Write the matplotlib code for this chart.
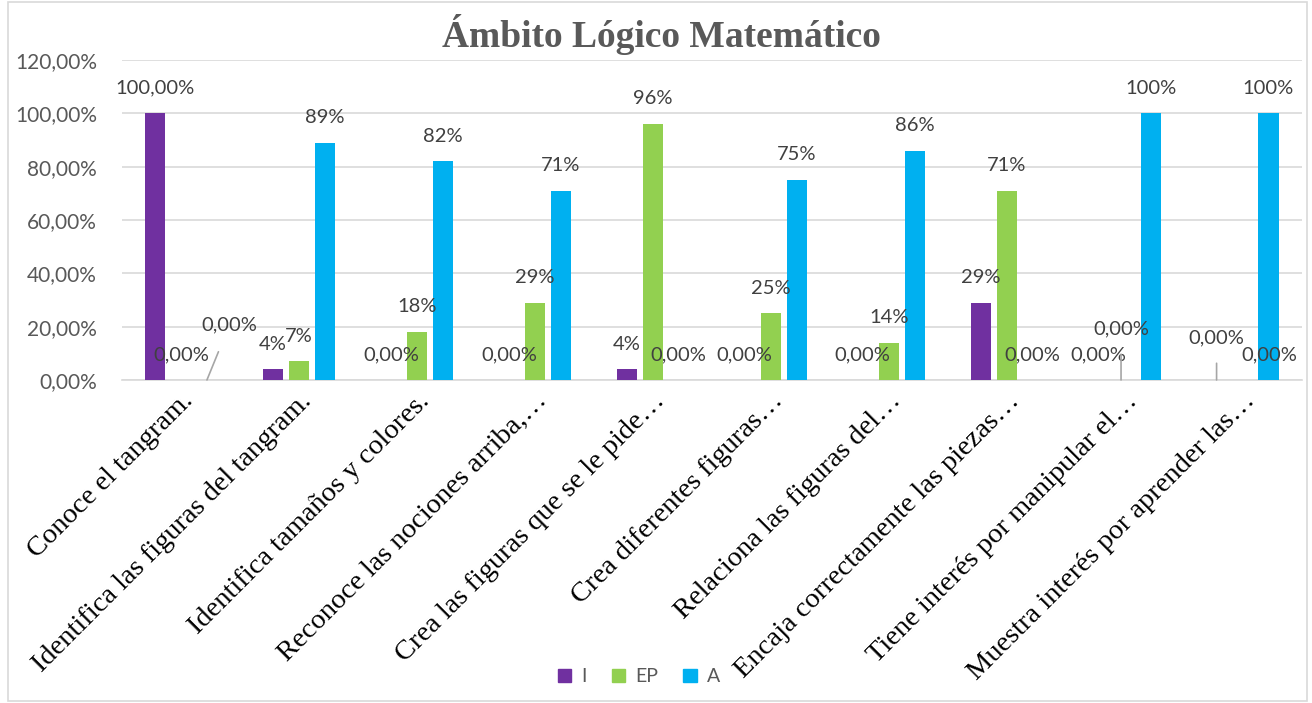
import matplotlib.pyplot as plt
from matplotlib.patches import Patch, Rectangle
from matplotlib.transforms import ScaledTranslation
import numpy as np

categorias = ["Conoce el tangram.",
              "Identifica las figuras del tangram.",
              "Identifica tamaños y colores.",
              "Reconoce las nociones arriba,…",
              "Crea las figuras que se le pide…",
              "Crea diferentes figuras…",
              "Relaciona las figuras del…",
              "Encaja correctamente las piezas…",
              "Tiene interés por manipular el…",
              "Muestra interés por aprender las…"]
serie_i = [100, 4, 0, 0, 4, 0, 0, 29, 0, 0]
serie_ep = [0, 7, 18, 29, 96, 25, 14, 71, 0, 0]
serie_a = [0, 89, 82, 71, 0, 75, 86, 0, 100, 100]
etiq_i = ["100,00%", "4%", "0,00%", "0,00%", "4%", "0,00%", "0,00%", "29%", "0,00%", "0,00%"]
etiq_ep = ["0,00%", "7%", "18%", "29%", "96%", "25%", "14%", "71%", "0,00%", "0,00%"]
etiq_a = ["0,00%", "89%", "82%", "71%", "0,00%", "75%", "86%", "0,00%", "100%", "100%"]

morado = "#7030A0"
verde = "#92D050"
azul = "#00B0F0"
gris = "#595959"
fuente = "Lato"
fs_etq = 14.5

fig = plt.figure(figsize=(13.12, 7.03), dpi=100)
ax = fig.add_axes([0.093, 0.4595, 0.899, 0.4552])

x = np.arange(len(categorias))
w = 0.17
d = 0.22
series = [(serie_i, etiq_i, morado, -d), (serie_ep, etiq_ep, verde, 0), (serie_a, etiq_a, azul, d)]
for vals, etiq, col, off in series:
    ax.bar(x + off, vals, width=w, color=col, zorder=3)

# etiquetas normales
for vals, etiq, col, off in series:
    for i, (v, t) in enumerate(zip(vals, etiq)):
        if (i, off) in [(0, d), (8, 0), (9, -d), (9, 0)]:
            continue
        ax.annotate(t, (x[i] + off, v), xytext=(0, 18), textcoords="offset points",
                    ha="center", va="center", fontsize=fs_etq, color="#404040", family=fuente)

# etiquetas desplazadas con línea guía
ax.annotate("0,00%", (x[0] + d, 0), xytext=(x[0] + 0.41, 20.6), ha="center", va="center",
            fontsize=fs_etq, color="#404040", family=fuente,
            arrowprops=dict(arrowstyle="-", color="#A6A6A6", lw=1.2, shrinkB=0, shrinkA=12))
ax.annotate("0,00%", (x[8] - 0.03, 0), xytext=(x[8] - 0.03, 19.1), ha="center", va="center",
            fontsize=fs_etq, color="#404040", family=fuente,
            arrowprops=dict(arrowstyle="-", color="#A6A6A6", lw=1.2, shrinkB=0, shrinkA=10))
ax.annotate("0,00%", (x[9] - d, 0), xytext=(x[9] - d, 15.7), ha="center", va="center",
            fontsize=fs_etq, color="#404040", family=fuente,
            arrowprops=dict(arrowstyle="-", color="#A6A6A6", lw=1.2, shrinkB=0, shrinkA=10))
ax.annotate("0,00%", (x[9], 0), xytext=(x[9] + 0.23, 9.4), ha="center", va="center",
            fontsize=fs_etq, color="#404040", family=fuente)

ax.set_xlim(-0.5, len(categorias) - 0.5)
ax.set_ylim(0, 120)
ax.set_yticks(np.arange(0, 121, 20))
ax.set_yticklabels(["%d,00%%" % v for v in range(0, 121, 20)], fontsize=15, color=gris, family=fuente)
ax.set_xticks(x)
ax.set_xticklabels(categorias, rotation=45, ha="right", va="top", rotation_mode="anchor",
                   fontsize=20.5, family="Liberation Serif", color="black")
desp = ScaledTranslation(-9 / 100, -6 / 100, fig.dpi_scale_trans)
for lab in ax.get_xticklabels():
    lab.set_transform(lab.get_transform() + desp)
ax.tick_params(axis="both", length=0)
ax.tick_params(axis="y", pad=18)
ax.tick_params(axis="x", pad=6)
ax.grid(axis="y", color="#D9D9D9", lw=1.2, zorder=0)
for s in ["top", "right", "left"]:
    ax.spines[s].set_visible(False)
ax.spines["bottom"].set_color("#D9D9D9")
ax.spines["bottom"].set_linewidth(1.2)

fig.text(0.504, 0.951, "Ámbito Lógico Matemático", ha="center", va="center",
         fontsize=27, fontweight="bold", family="Liberation Serif", color=gris)

handles = [Patch(color=morado, label="I"), Patch(color=verde, label="EP"), Patch(color=azul, label="A")]
fig.legend(handles=handles, loc="center", bbox_to_anchor=(0.487, 0.037), ncol=3, frameon=False,
           handlelength=0.7, handleheight=0.7, columnspacing=1.3, handletextpad=0.5,
           prop={"family": fuente, "size": 14}, labelcolor=gris)

fig.patches.append(Rectangle((0.006, 0.003), 0.99, 0.994, transform=fig.transFigure,
                             fill=False, edgecolor="#D9D9D9", lw=1.2))

fig.savefig("out.png", dpi=100)
